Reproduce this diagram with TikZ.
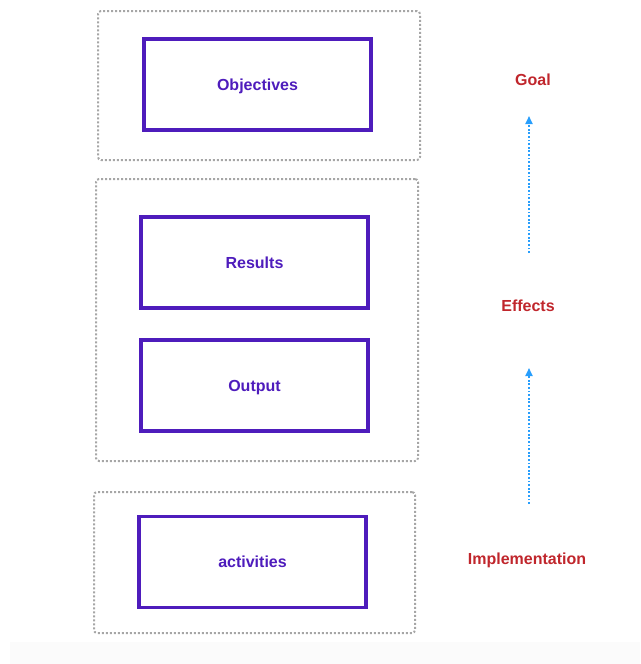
\documentclass[tikz,border=0pt]{standalone}
\usepackage{fontspec}
\setmainfont{Liberation Sans}
\usetikzlibrary{arrows.meta}
\definecolor{boxpurple}{RGB}{78,28,188}
\definecolor{lblred}{RGB}{192,38,44}
\definecolor{arrblue}{RGB}{40,158,252}
\begin{document}
\begin{tikzpicture}[x=1pt,y=-1pt, every node/.style={font=\fontsize{16}{18}\selectfont\bfseries},
  frame/.style={draw=gray!70,dash pattern=on 2pt off 2pt,line width=2pt,rounded corners=3pt,inner sep=0pt},
  box/.style={draw=boxpurple,line width=3.2pt,text=boxpurple,minimum width=227pt,minimum height=91pt,inner sep=0pt,text height=11.5pt,text depth=0pt},
  lbl/.style={text=lblred,inner sep=1pt,text height=11.5pt,text depth=0pt},
  flow/.style={-{Triangle[length=8pt,width=7pt]},arrblue,dash pattern=on 1.8pt off 1.8pt,line width=1.8pt}]
\useasboundingbox (0,0) rectangle (640,664);
\fill[gray!3] (10,642) rectangle (640,664);
% dotted groups
\node[frame,minimum width=322pt,minimum height=149pt] (grpgoal) at (259,85.5) {};
\node[frame,minimum width=322pt,minimum height=282pt] (grpeff) at (257,320) {};
\node[frame,minimum width=321pt,minimum height=141pt] (grpimp) at (254.5,562.5) {};
% boxes
\node[box] (objectives) at (257.5,84.5) {Objectives};
\node[box] (results) at (254.5,262.5) {Results};
\node[box] (output) at (254.5,385.5) {Output};
\node[box] (activities) at (252.5,562) {activities};
% levels on the right
\node[lbl] (goal) at (533,80) {Goal};
\node[lbl] (effects) at (528,306) {Effects};
\node[lbl] (impl) at (527,559) {Implementation};
\coordinate (effup) at (529,253);
\coordinate (goaldn) at (529,116);
\coordinate (impup) at (529,504);
\coordinate (effdn) at (529,368);
\draw[flow] (effup)--(goaldn);
\draw[flow] (impup)--(effdn);
\end{tikzpicture}
\end{document}
